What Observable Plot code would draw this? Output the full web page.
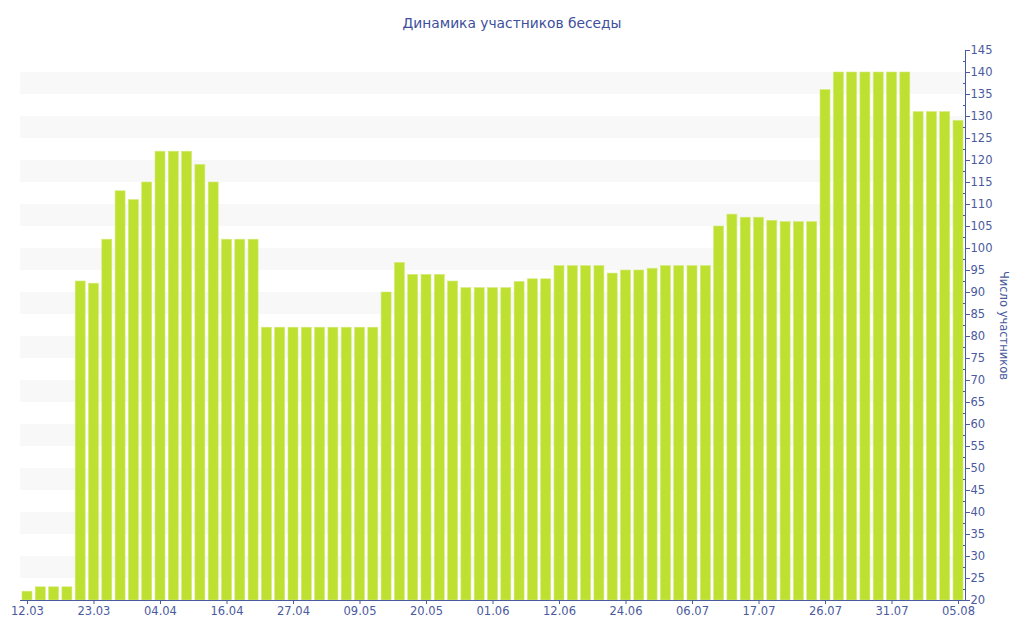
<!DOCTYPE html>
<html>
<head>
<meta charset="utf-8">
<script src="https://cdn.jsdelivr.net/npm/d3@7"></script>
<script src="https://cdn.jsdelivr.net/npm/@observablehq/plot@0.6"></script>
<style>
  body { margin: 0; background: #fff; font-family: "DejaVu Sans", Verdana, sans-serif; }
  #title { height: 44px; line-height: 46px; text-align: center; font-size: 13.8px; color: #3e4f9c; width: 1024px; }
</style>
</head>
<body>
<div id="title">Динамика участников беседы</div>
<div id="chart"></div>
<script>
// Number of participants per observation (71 bars)
const values = [
  22, 23, 23, 23, 92.5, 92, 102, 113, 111, 115,
  122, 122, 122, 119, 115, 102, 102, 102, 82, 82,
  82, 82, 82, 82, 82, 82, 82, 90, 96.7, 94,
  94, 94, 92.5, 91, 91, 91, 91, 92.4, 93, 93,
  96, 96, 96, 96, 94.3, 95, 95, 95.4, 96, 96,
  96, 96, 105, 107.7, 107, 107, 106.3, 106, 106, 106,
  136, 140, 140, 140, 140, 140, 140, 131, 131, 131,
  129
];
// Tick labels shown every 5th bar
const tickLabels = ["12.03","23.03","04.04","16.04","27.04","09.05","20.05","01.06","12.06","24.06","06.07","17.07","26.07","31.07","05.08"];
const tickStep = 5;
const yMin = 20, yMax = 145;
const yLabel = "Число участников";

const idx = d3.range(values.length);
const tickIdx = tickLabels.map((_, k) => k * tickStep);
const labelOf = new Map(tickIdx.map((t, k) => [t, tickLabels[k]]));
const bands = d3.range(25, 140, 10);
const majorTicks = d3.range(yMin, yMax + 1, 5);
const minorTicks = d3.range(yMin + 2.5, yMax, 5);

const axisColor = "#4a5a9e";

const chart = Plot.plot({
  width: 1024,
  height: 596,
  marginTop: 6,
  marginBottom: 40,
  marginLeft: 20,
  marginRight: 59,
  style: { fontFamily: "DejaVu Sans, Verdana, sans-serif", fontSize: "11.5px", color: axisColor, background: "#fff" },
  x: { type: "band", domain: idx, paddingInner: 0.25, paddingOuter: 0.15, round: false, axis: null },
  y: { domain: [yMin, yMax], axis: null },
  marks: [
    Plot.rect(bands, { y1: d => d, y2: d => d + 5, fill: "#f8f8f8" }),
    Plot.barY(values, { x: (d, i) => i, y1: yMin, y2: d => d, fill: "#bde031", stroke: "#d2ea78", strokeWidth: 0.6 }),
    Plot.ruleY([yMin], { stroke: axisColor, strokeWidth: 1.2 }),
    Plot.frame({ anchor: "right", stroke: axisColor }),
    Plot.axisX({ ticks: tickIdx, tickFormat: t => labelOf.get(t), tickSize: 4, tickPadding: 2, label: null, fill: axisColor, stroke: axisColor, fontSize: 11.5 }),
    Plot.axisY({ anchor: "right", ticks: majorTicks, tickSize: 4, tickPadding: 1, label: null, fill: axisColor, stroke: axisColor, fontSize: 11.5 }),
    Plot.axisY({ anchor: "right", ticks: minorTicks, tickSize: -3, text: null, label: null, stroke: axisColor }),
    Plot.text([yLabel], { frameAnchor: "right", dx: 38, rotate: 90, textAnchor: "middle", fill: axisColor, fontSize: 11.5 })
  ]
});
document.getElementById("chart").appendChild(chart);
</script>
</body>
</html>
